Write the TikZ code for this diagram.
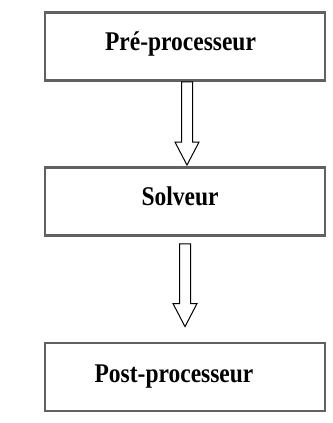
\documentclass[tikz,border=0pt]{standalone}
\usepackage{fontspec}
\setmainfont{Liberation Serif}
\usetikzlibrary{calc,positioning}

\tikzset{
  boxline/.style={draw=black!62,line width=2.8pt,minimum width=280pt,minimum height=68pt,inner sep=0pt},
  steplabel/.style={font=\fontsize{27}{30}\selectfont\bfseries,xscale=0.87,anchor=base,inner sep=0pt},
  hollow/.style={draw=black,line width=1pt,fill=white,line join=miter},
}
% open block arrow from #1 (top of shaft) down to #2 (tip)
\newcommand{\hollowarrow}[2]{%
  \draw[hollow] ($(#1)+(-5.5,0)$) -- ($(#2)+(-5.5,-23)$) -- ($(#2)+(-12,-23)$) -- (#2)
    -- ($(#2)+(12,-23)$) -- ($(#2)+(5.5,-23)$) -- ($(#1)+(5.5,0)$) -- cycle;}

\begin{document}
\begin{tikzpicture}[x=1pt,y=-1pt]
  \useasboundingbox (0,0) rectangle (332,423);
  % the three stages
  \node[boxline] (pre)  at (185,46.5) {};
  \node[boxline] (solv) at (185,201.5) {};
  \node[boxline] (post) at (185,377) {};
  \node[steplabel] (preT)  at (180.5,50) {Pré-processeur};
  \node[steplabel] (solvT) at (180,205)  {Solveur};
  \node[steplabel] (postT) at (174,382)  {Post-processeur};
  % arrows between them
  \coordinate (a1) at ($(pre.south)+(2,0)$);
  \coordinate (b1) at ($(solv.north)+(2,-1)$);
  \coordinate (a2) at ($(solv.south)+(0,7)$);
  \coordinate (b2) at ($(post.north)+(0,-15)$);
  \hollowarrow{a1}{b1}
  \hollowarrow{a2}{b2}
\end{tikzpicture}
\end{document}
